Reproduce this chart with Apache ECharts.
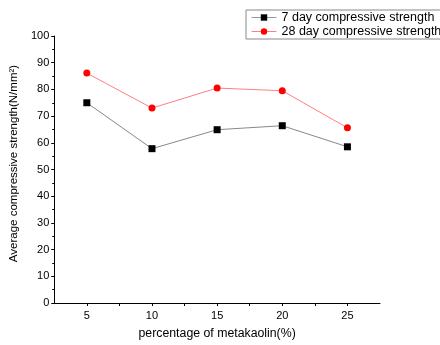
<!DOCTYPE html>
<html><head><meta charset="utf-8">
<script src="https://cdn.jsdelivr.net/npm/echarts@6/dist/echarts.min.js"></script>
<style>html,body{margin:0;padding:0;background:#fff}#c{width:440px;height:345px}</style>
</head><body><div id="c"></div>
<script>
const categories = [5, 10, 15, 20, 25];
const day7 = [75.0, 57.8, 64.9, 66.4, 58.5];
const day28 = [86.1, 73.0, 80.5, 79.5, 65.6];
const seriesNames = ['7 day compressive strength', '28 day compressive strength'];

const font = 'Liberation Sans, Arial, sans-serif';
const chart = echarts.init(document.getElementById('c'));
chart.setOption({
  animation: false,
  backgroundColor: '#fff',
  grid: { left: 53, top: 36, right: 60, bottom: 42, containLabel: false },
  legend: {
    orient: 'vertical', left: 246, top: 10,
    borderColor: '#888', borderWidth: 1, padding: [1, 4, 1, 5],
    itemGap: 1, itemWidth: 25, itemHeight: 8,
    textStyle: { fontFamily: font, fontSize: 12.5, color: '#000' },
    data: [
      { name: seriesNames[0], lineStyle: { color: '#999', width: 1 }, itemStyle: { color: '#000' } },
      { name: seriesNames[1], lineStyle: { color: '#ff8080', width: 1 }, itemStyle: { color: '#ff0000' } }
    ]
  },
  xAxis: {
    type: 'value', min: 2.5, max: 27.5, interval: 2.5,
    name: 'percentage of metakaolin(%)', nameLocation: 'middle', nameGap: 25,
    nameTextStyle: { fontFamily: font, fontSize: 12.3, color: '#000' },
    axisLine: { show: true, lineStyle: { color: '#000', width: 1 } },
    axisTick: { show: true, length: 3, lineStyle: { color: '#000' } },
    axisLabel: { fontFamily: font, fontSize: 11, color: '#000', margin: 7,
      formatter: v => (v % 5 === 0 ? String(v) : ''), showMinLabel: false, showMaxLabel: false },
    splitLine: { show: false }
  },
  yAxis: {
    type: 'value', min: 0, max: 100, interval: 10,
    name: 'Average compressive strength(N/mm²)', nameLocation: 'middle', nameGap: 31, nameRotate: 90,
    nameTextStyle: { fontFamily: font, fontSize: 11.5, color: '#000', padding: [0, 0, 0, 12] },
    axisLine: { show: true, lineStyle: { color: '#000', width: 1 } },
    axisTick: { show: true, length: 3, lineStyle: { color: '#000' } },
    minorTick: { show: true, splitNumber: 2, length: 2, lineStyle: { color: '#000' } },
    axisLabel: { fontFamily: font, fontSize: 11, color: '#000', margin: 5 },
    splitLine: { show: false }
  },
  series: [
    {
      name: seriesNames[0], type: 'line',
      data: categories.map((c, i) => [c, day7[i]]),
      symbol: 'rect', symbolSize: 7,
      itemStyle: { color: '#000' },
      lineStyle: { color: '#888', width: 1 }
    },
    {
      name: seriesNames[1], type: 'line',
      data: categories.map((c, i) => [c, day28[i]]),
      symbol: 'circle', symbolSize: 7,
      itemStyle: { color: '#ff0000' },
      lineStyle: { color: '#ff8080', width: 1 }
    }
  ]
});
</script></body></html>
